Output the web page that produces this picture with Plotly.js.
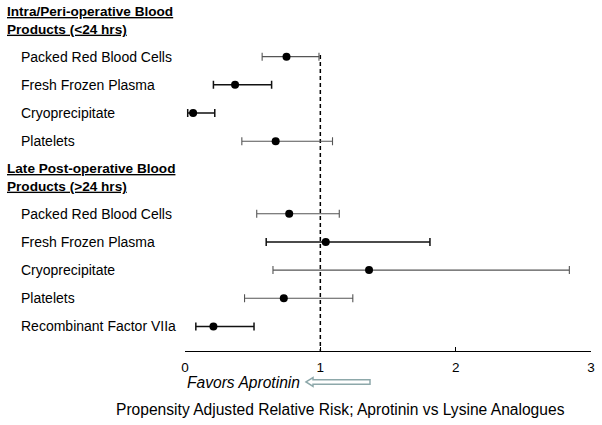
<!DOCTYPE html>
<html>
<head>
<meta charset="utf-8">
<script src="https://cdn.plot.ly/plotly-3.0.1.min.js"></script>
<style>html,body{margin:0;padding:0;background:#fff;}#chart{width:602px;height:425px;}</style>
</head>
<body>
<div id="chart"></div>
<script>
// ---- data ----
var intraHeader = "Intra/Peri-operative Blood<br>Products (&lt;24 hrs)";
var lateHeader = "Late Post-operative Blood<br>Products (&gt;24 hrs)";
var intraLabels = ["Packed Red Blood Cells", "Fresh Frozen Plasma", "Cryoprecipitate", "Platelets"];
var intraRR   = [0.75, 0.37, 0.06, 0.67];
var intraLow  = [0.57, 0.21, 0.02, 0.42];
var intraHigh = [0.99, 0.64, 0.22, 1.09];
var lateLabels = ["Packed Red Blood Cells", "Fresh Frozen Plasma", "Cryoprecipitate", "Platelets", "Recombinant Factor VIIa"];
var lateRR   = [0.77, 1.04, 1.36, 0.73, 0.21];
var lateLow  = [0.53, 0.60, 0.65, 0.44, 0.08];
var lateHigh = [1.14, 1.81, 2.84, 1.24, 0.51];
var xTicks = [0, 1, 2, 3];
var xTitle = "Propensity Adjusted Relative Risk; Aprotinin vs Lysine Analogues";
var favorsText = "Favors Aprotinin";

// ---- layout helpers (row positions in row units, top = small) ----
var headerOffset = 1.27;   // header centre above first row of its group
var groupGap = 2.57;       // distance from last row of a group to first row of next
var rows = [];
var headers = [];
var pos = 1;
function addGroup(header, labels, rr, lo, hi) {
  headers.push({text: header, y: pos - headerOffset});
  for (var i = 0; i < labels.length; i++) {
    rows.push({label: labels[i], rr: rr[i], lo: lo[i], hi: hi[i], y: pos});
    pos += 1;
  }
  pos += groupGap - 1;
}
addGroup(intraHeader, intraLabels, intraRR, intraLow, intraHigh);
addGroup(lateHeader, lateLabels, lateRR, lateLow, lateHigh);

function isHeavy(idx) {
  return idx === 1 || idx === 2 || idx === 5 || idx === 8;
}

function mkTrace(filter, color, width) {
  var xs = [], ys = [], ep = [], em = [];
  rows.forEach(function (r, i) {
    if (filter(i)) {
      xs.push(r.rr); ys.push(r.y);
      ep.push(r.hi - r.rr); em.push(r.rr - r.lo);
    }
  });
  return {
    type: "scatter", mode: "markers", x: xs, y: ys,
    marker: {color: "#000", size: 8},
    error_x: {type: "data", symmetric: false, array: ep, arrayminus: em,
              color: color, thickness: width, width: 4},
    hoverinfo: "skip", showlegend: false
  };
}

var traces = [
  mkTrace(function (i) { return !isHeavy(i); }, "#555", 1.1),
  mkTrace(function (i) { return isHeavy(i); }, "#111", 1.5)
];

var yTop = -1.01, yBottom = 11.44;
var plotL = 185, plotW = 406, plotH = 351;
function px2paperX(px) { return (px - plotL) / plotW; }
function py2paperY(py) { return (plotH - py) / plotH; }
function px2dataX(px) { return (px - plotL) / (plotW / 3); }

var font = "Liberation Sans, Arial, sans-serif";
var annotations = [];
headers.forEach(function (h) {
  var parts = h.text.split("<br>").map(function (s) { return "<b><u>" + s + "</u></b>"; });
  annotations.push({xref: "paper", yref: "y", x: px2paperX(5), y: h.y, xanchor: "left", yanchor: "middle",
    text: parts.join("<br>"), showarrow: false, align: "left",
    font: {family: font, size: 13.6, color: "#000"}});
});
rows.forEach(function (r) {
  annotations.push({xref: "paper", yref: "y", x: px2paperX(19), y: r.y, xanchor: "left", yanchor: "middle",
    text: r.label, showarrow: false, font: {family: font, size: 14, color: "#000"}});
});
annotations.push({xref: "paper", yref: "paper", x: px2paperX(185), y: py2paperY(382), xanchor: "left", yanchor: "middle",
  text: "<i>" + favorsText + "</i>", showarrow: false, font: {family: font, size: 15.6, color: "#000"}});
annotations.push({xref: "paper", yref: "paper", x: px2paperX(340.5), y: py2paperY(409), xanchor: "center", yanchor: "middle",
  text: xTitle, showarrow: false, font: {family: font, size: 15.6, color: "#000"}});

// hollow arrow path
function P(px, py) { return px2dataX(px).toFixed(4) + "," + py2paperY(py).toFixed(4); }
var arrowPath = "M" + P(306, 382) + " L" + P(313, 377.5) + " L" + P(313, 379.8) + " L" + P(370, 379.8) +
  " L" + P(370, 384.2) + " L" + P(313, 384.2) + " L" + P(313, 386.5) + " Z";

var layout = {
  width: 602, height: 425,
  margin: {l: plotL, r: 602 - plotL - plotW, t: 0, b: 425 - plotH},
  paper_bgcolor: "#fff", plot_bgcolor: "#fff",
  xaxis: {range: [0, 3], tickvals: xTicks, ticktext: xTicks.map(String), showline: true, linecolor: "#000",
    linewidth: 1, ticks: "inside", ticklen: 4, tickcolor: "#000", showgrid: false, zeroline: false,
    ticklabelstandoff: 4,
    tickfont: {family: font, size: 13.5, color: "#000"}, fixedrange: true},
  yaxis: {range: [yBottom, yTop], visible: false, showgrid: false, zeroline: false, fixedrange: true},
  shapes: [
    {type: "line", xref: "x", yref: "y", x0: 1, x1: 1, y0: rows[0].y - 0.06, y1: yBottom,
     line: {color: "#000", width: 1.5, dash: "4px,3px"}, layer: "below"},
    {type: "path", xref: "x", yref: "paper", path: arrowPath, fillcolor: "#fff",
     line: {color: "#8da8aa", width: 1.5}}
  ],
  annotations: annotations,
  showlegend: false
};

Plotly.newPlot("chart", traces, layout, {displayModeBar: false, staticPlot: true});
</script>
</body>
</html>
